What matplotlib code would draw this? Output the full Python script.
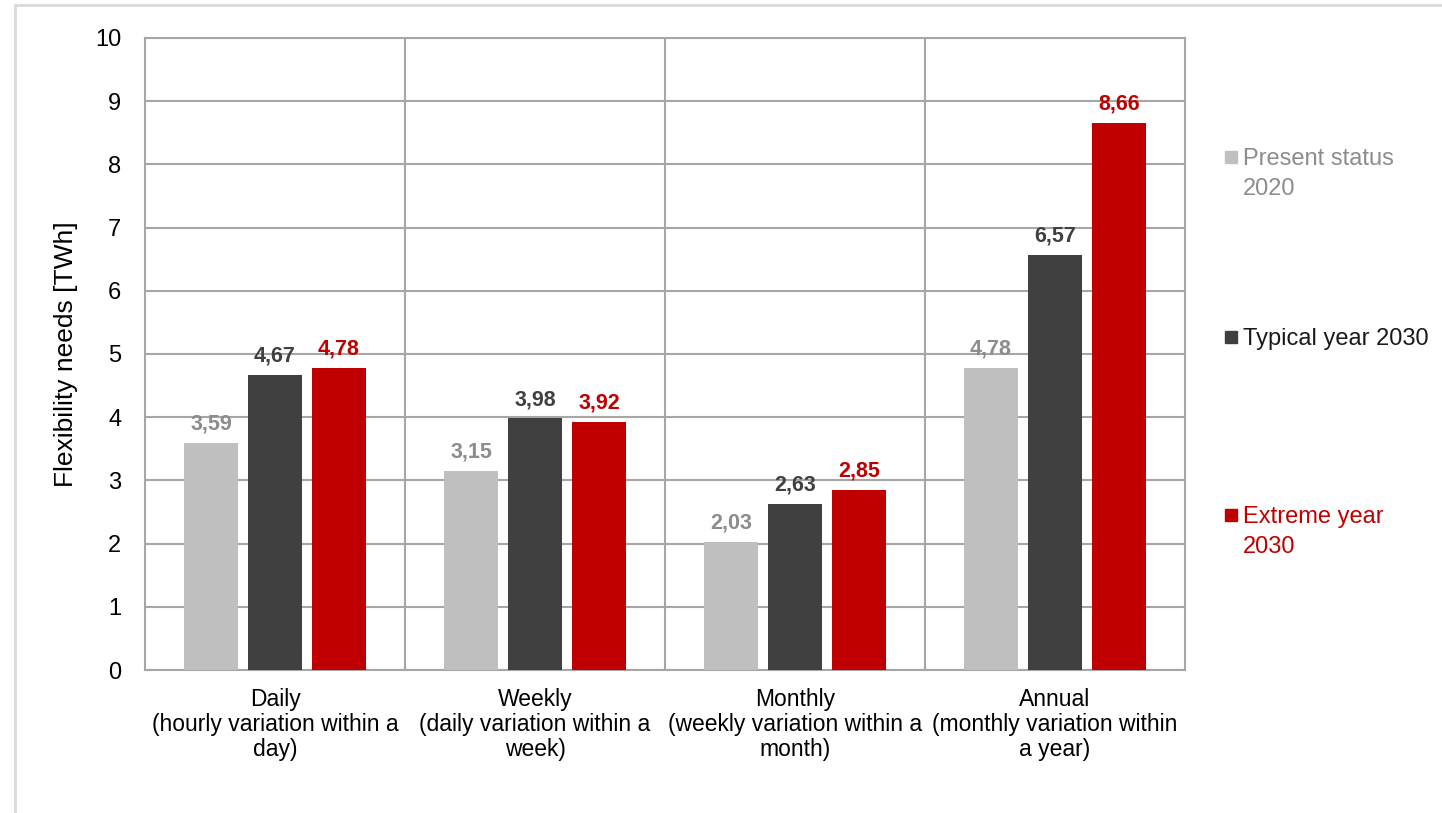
import numpy as np
import matplotlib.pyplot as plt
from matplotlib.patches import Rectangle

plt.rcParams['font.family'] = ['Liberation Sans', 'DejaVu Sans']

# 数据
categories = ['Daily\n(hourly variation within a\nday)',
              'Weekly\n(daily variation within a\nweek)',
              'Monthly\n(weekly variation within a\nmonth)',
              'Annual\n(monthly variation within\na year)']
series_names = ['Present status\n2020', 'Typical year 2030', 'Extreme year\n2030']
present_2020 = [3.59, 3.15, 2.03, 4.78]
typical_2030 = [4.67, 3.98, 2.63, 6.57]
extreme_2030 = [4.78, 3.92, 2.85, 8.66]

bar_colors = ['#BFBFBF', '#404040', '#C00000']
label_colors = ['#8C8C8C', '#404040', '#C00000']
legend_text_colors = ['#8C8C8C', '#1A1A1A', '#C00000']
grid_color = '#A6A6A6'


def draw():
    fig = plt.figure(figsize=(14.42, 8.13), dpi=100)
    ax = fig.add_axes([145 / 1442, 143 / 813, 1040 / 1442, 632 / 813])

    x = np.arange(len(categories))
    width = 0.205
    offsets = [-0.246, 0, 0.246]
    values = [present_2020, typical_2030, extreme_2030]

    for vals, off, c, lc in zip(values, offsets, bar_colors, label_colors):
        bars = ax.bar(x + off, vals, width, color=c, zorder=3)
        for b, v in zip(bars, vals):
            ax.annotate(('%.2f' % v).replace('.', ','),
                        (b.get_x() + b.get_width() / 2, v),
                        xytext=(0, 6), textcoords='offset points',
                        ha='center', va='bottom', fontsize=15.5,
                        fontweight='bold', color=lc, zorder=4)

    ax.set_xlim(-0.5, len(categories) - 0.5)
    ax.set_ylim(0, 10)
    ax.set_yticks(range(0, 11))
    ax.set_xticks(x)
    ax.set_xticklabels(categories, fontsize=16.5, linespacing=1.12)
    ax.tick_params(axis='y', labelsize=17, length=0, pad=17)
    ax.tick_params(axis='x', length=0, pad=13)
    ax.set_ylabel('Flexibility needs [TWh]', fontsize=19, labelpad=12)

    # 网格线
    ax.yaxis.grid(True, color=grid_color, linewidth=1.5, zorder=0)
    for xb in np.arange(0.5, len(categories) - 0.5):
        ax.axvline(xb, color=grid_color, linewidth=1.5, zorder=0)
    for s in ax.spines.values():
        s.set_color(grid_color)
        s.set_linewidth(1.5)

    # 图例
    legend_y = [157, 337, 515]
    for name, c, tc, yy in zip(series_names, bar_colors, legend_text_colors, legend_y):
        fig.patches.append(Rectangle((1225 / 1442, (813 - yy - 6) / 813), 12 / 1442, 12 / 813,
                                     transform=fig.transFigure, color=c))
        fig.text(1243 / 1442, (813 - yy + 9) / 813, name, fontsize=17, color=tc,
                 va='top', ha='left', linespacing=1.45)

    # 外边框
    fig.patches.append(Rectangle((15 / 1442, -0.1), 1.2, (808 / 813) + 0.1,
                                 transform=fig.transFigure, fill=False,
                                 edgecolor='#D9D9D9', linewidth=2))

    fig.savefig('out.png', dpi=100)


if __name__ == '__main__':
    draw()
